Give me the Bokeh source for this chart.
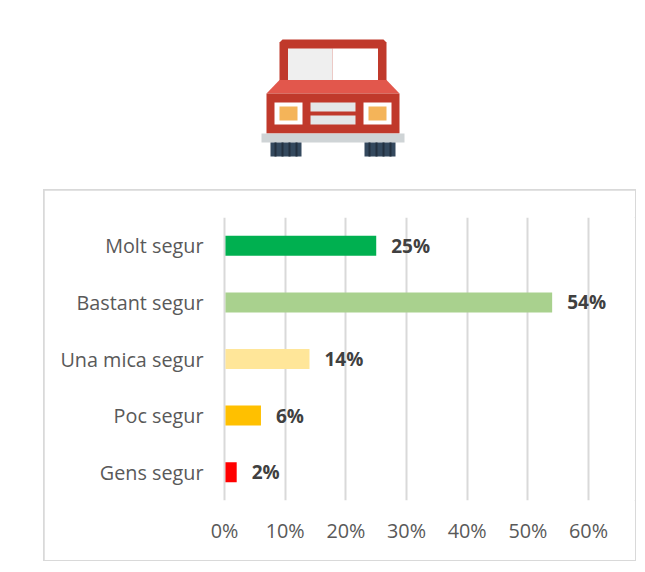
from bokeh.plotting import figure
from bokeh.layouts import column
from bokeh.models import (ColumnDataSource, FixedTicker,
                          PrintfTickFormatter, FactorRange, Range1d)
from bokeh.core.properties import value
from bokeh.embed import file_html
from bokeh.resources import INLINE

categories = ["Molt segur", "Bastant segur", "Una mica segur", "Poc segur", "Gens segur"]
values = [25, 54, 14, 6, 2]
colors = ["#00B050", "#A9D18E", "#FFE699", "#FFC000", "#FF0000"]
x_ticks = [0, 10, 20, 30, 40, 50, 60]

FONT = "Open Sans"

# ---- truck pictogram (page pixel coordinates) ----
icon_polys = [
    ([280, 283, 384, 387, 387, 280], [43, 40, 40, 43, 84, 84], "#C0392B"),
    ([288.5, 333, 333, 288.5], [49, 49, 80.5, 80.5], "#EFEFEF"),
    ([333, 378.5, 378.5, 333], [49, 49, 80.5, 80.5], "#FFFFFF"),
    ([280, 387, 400, 267], [80.5, 80.5, 94, 94], "#E2574C"),
    ([267, 400, 400, 267], [94, 94, 134, 134], "#C0392B"),
    ([262, 405, 405, 262], [134, 134, 143, 143], "#CFD4D6"),
    ([275, 303, 303, 275], [103, 103, 125, 125], "#FFFFFF"),
    ([280, 298, 298, 280], [107, 107, 121, 121], "#F4B459"),
    ([364, 392, 392, 364], [103, 103, 125, 125], "#FFFFFF"),
    ([369, 387, 387, 369], [107, 107, 121, 121], "#F4B459"),
    ([311, 356, 356, 311], [103, 103, 112, 112], "#E4E7E8"),
    ([311, 356, 356, 311], [116, 116, 125, 125], "#E4E7E8"),
    ([271, 302, 302, 271], [143, 143, 157, 157], "#34495E"),
    ([365, 396, 396, 365], [143, 143, 157, 157], "#34495E"),
]
wheel_stripes = [275, 282, 289, 296, 369, 376, 383, 390]

icon = figure(width=591, height=182, output_backend="svg", toolbar_location=None,
              x_range=Range1d(219, 636), y_range=Range1d(191, 9),
              min_border_left=174, min_border_right=0,
              min_border_top=0, min_border_bottom=0, outline_line_color=None,
              margin=(0, 0, 0, 36))
icon.axis.visible = False
icon.grid.visible = False
icon.patches([t[0] for t in icon_polys], [t[1] for t in icon_polys],
             fill_color=[t[2] for t in icon_polys], line_color=None)
icon.quad(left=wheel_stripes, right=[s + 2 for s in wheel_stripes], top=143, bottom=157,
          fill_color="#22303F", line_color=None)

# ---- bar chart ----
src = ColumnDataSource(dict(
    cat=categories, val=values, color=colors,
    label=[f"{v}%" for v in values],
))

p = figure(width=591, height=370, output_backend="svg", toolbar_location=None,
           y_range=FactorRange(factors=categories[::-1]),
           x_range=Range1d(-1, 67.74),
           min_border_left=174, min_border_right=0,
           min_border_top=27, min_border_bottom=60,
           outline_line_color=None, margin=(0, 0, 0, 36),
           styles={"outline": "2px solid #D9D9D9", "outline-offset": "-1px"})

p.hbar(y="cat", left=0.15, right="val", height=0.353, fill_color="color",
       line_color=None, source=src)
p.text(x="val", y="cat", text="label", x_offset=15, text_baseline="middle",
       text_font=value(FONT), text_font_style="bold", text_font_size="19px",
       text_color="#404040", source=src)

p.xgrid.grid_line_color = "#D9D9D9"
p.xgrid.grid_line_width = 2
p.xgrid.ticker = FixedTicker(ticks=x_ticks)
p.ygrid.visible = False

p.xaxis.ticker = FixedTicker(ticks=x_ticks)
p.xaxis.formatter = PrintfTickFormatter(format="%d%%")
for ax in (p.xaxis[0], p.yaxis[0]):
    ax.axis_line_color = None
    ax.major_tick_line_color = None
    ax.minor_tick_line_color = None
    ax.major_label_text_font = FONT
    ax.major_label_text_font_size = "19.8px"
    ax.major_label_text_color = "#595959"
p.xaxis.major_label_standoff = 10
p.yaxis.major_label_standoff = 9

layout = column(icon, p, spacing=0, margin=(8, 0, 0, 8))
open("out.html", "w").write(file_html(layout, INLINE))
